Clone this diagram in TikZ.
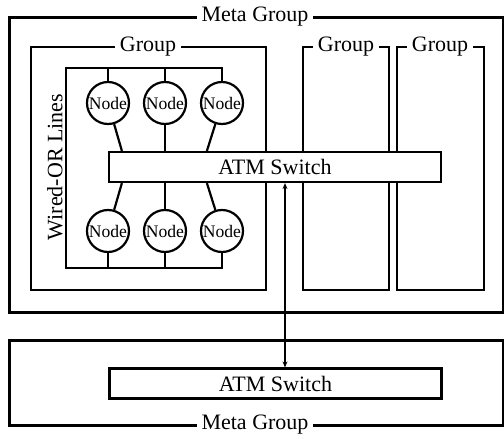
\documentclass[tikz,border=0pt]{standalone}
\usepackage{fontspec}
\setmainfont{Liberation Serif}
\usetikzlibrary{calc,arrows.meta}
\begin{document}
\begin{tikzpicture}[x=0.5pt,y=-0.5pt,
  every node/.style={font=\fontsize{11}{13}\selectfont},
  metabox/.style={line width=1.5pt},
  groupbox/.style={line width=1.3pt},
  wire/.style={line width=1.1pt},
  lbl/.style={fill=white,inner xsep=2.5pt,inner ysep=1pt},
  pe/.style={circle,draw,line width=1.1pt,minimum size=21pt,inner sep=0pt,fill=white,font=\fontsize{8.8}{9}\selectfont},
  switchbox/.style={draw,line width=1.1pt,fill=white,minimum width=166pt,minimum height=15pt,inner sep=0pt}]
\useasboundingbox (0,0) rectangle (504,439);
% meta groups
\draw[metabox] (9,17) rectangle (503,312);
\draw[metabox] (9,340) rectangle (503,425);
% groups
\draw[groupbox] (31,47) rectangle (266,290);
\draw[groupbox] (303,47) rectangle (389,290);
\draw[groupbox] (397,47) rectangle (484,290);
% labels
\node[lbl] (mg1) at (255,17) {Meta Group};
\node[lbl] (mg2) at (255,425) {Meta Group};
\node[lbl] (g1) at (148,47) {Group};
\node[lbl] (g2) at (346,47) {Group};
\node[lbl] (g3) at (440,47) {Group};
\node[rotate=90] (wl) at (55,167) {Wired-OR Lines};
% nodes
\node[pe] (n1) at (108,103) {Node};
\node[pe] (n2) at (165,103) {Node};
\node[pe] (n3) at (222,103) {Node};
\node[pe] (n4) at (108,231) {Node};
\node[pe] (n5) at (165,231) {Node};
\node[pe] (n6) at (222,231) {Node};
% switches
\node[switchbox] (sw1) at (275,167) {ATM Switch};
\node[switchbox] (sw2) at (275.5,383.5) {ATM Switch};
% wired-OR lines
\coordinate (wtl) at (66,68);
\coordinate (wbl) at (66,268);
\draw[wire] (n3.north) |- (wtl) -- (wbl) -| (n6.south);
\draw[wire] (n1.north) -- (n1.north |- wtl);
\draw[wire] (n2.north) -- (n2.north |- wtl);
\draw[wire] (n4.south) -- (n4.south |- wbl);
\draw[wire] (n5.south) -- (n5.south |- wbl);
% node to switch
\draw[wire] (n1) -- ($(sw1.north west)+(14,0)$);
\draw[wire] (n2) -- (n2 |- sw1.north);
\draw[wire] (n3) -- ($(sw1.north west)+(99,0)$);
\draw[wire] (n4) -- ($(sw1.south west)+(14,0)$);
\draw[wire] (n5) -- (n5 |- sw1.south);
\draw[wire] (n6) -- ($(sw1.south west)+(99,0)$);
% inter switch link
\coordinate (ax) at (285,0);
\draw[line width=0.8pt,{Stealth[length=3pt,width=2.5pt]}-{Stealth[length=3pt,width=2.5pt]}] (sw1.south -| ax) -- (sw2.north -| ax);
\end{tikzpicture}
\end{document}
